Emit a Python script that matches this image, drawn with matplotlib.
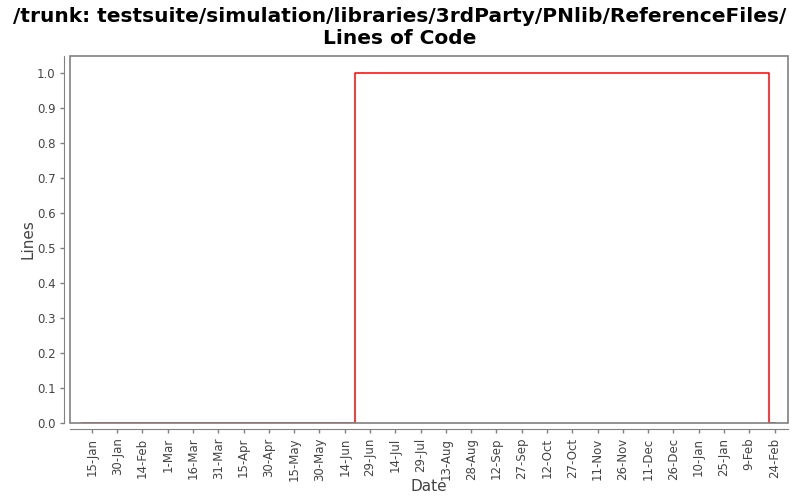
import datetime as dt
import matplotlib
matplotlib.use("Agg")
import matplotlib.pyplot as plt
import matplotlib.dates as mdates
from matplotlib.patches import Rectangle

# step data
dates = [dt.date(2009, 1, 9), dt.date(2009, 6, 20), dt.date(2010, 2, 21), dt.date(2010, 2, 24)]
lines = [0, 1, 0, 0]

tick_dates = [dt.date(2009, 1, 15) + dt.timedelta(days=15 * i) for i in range(28)]

plt.rcParams['font.family'] = ['DejaVu Sans']

fig = plt.figure(figsize=(8, 5), dpi=100)
ax = fig.add_axes([0.0875, 0.154, 0.8975, 0.734])

ax.step(dates, lines, where='post', color='red', lw=1.1, zorder=3)

ax.set_xlim(dt.date(2009, 1, 2), dt.date(2010, 3, 4))
ax.set_ylim(0, 1.05)
ax.set_yticks([i / 10 for i in range(11)])
ax.set_yticklabels(["%.1f" % (i / 10) for i in range(11)])
ax.set_xticks(tick_dates)
ax.xaxis.set_major_formatter(mdates.DateFormatter('%-d-%b'))

# frame plus offset axis lines
for s in ['top', 'right']:
    ax.spines[s].set_visible(False)
for s in ['left', 'bottom']:
    ax.spines[s].set_position(('outward', 4))
    ax.spines[s].set_color('#808080')
ax.add_patch(Rectangle((0, 0), 1, 1, transform=ax.transAxes, fill=False,
                       edgecolor='#808080', lw=1.2, zorder=4, clip_on=False))

ax.tick_params(axis='both', colors='#808080', labelcolor='#444444',
               labelsize=8.5, length=3, width=1)
ax.tick_params(axis='x', labelrotation=90)

ax.set_xlabel('Date', fontsize=11, color='#444444')
ax.set_ylabel('Lines', fontsize=11, color='#444444')
ax.xaxis.set_label_coords(0.5, -0.152)
ax.yaxis.set_label_coords(-0.048, 0.5)
fig.suptitle('/trunk: testsuite/simulation/libraries/3rdParty/PNlib/ReferenceFiles/\nLines of Code',
             fontsize=14.5, fontweight='bold', y=0.985, linespacing=1.2,
             family=['Liberation Sans Narrow', 'DejaVu Sans'])

fig.savefig('out.png', dpi=100)
